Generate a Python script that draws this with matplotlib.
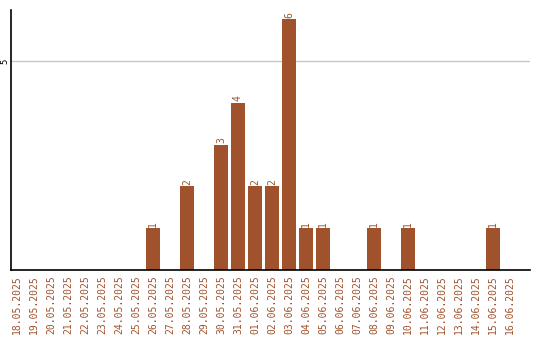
import matplotlib
matplotlib.use("Agg")
import matplotlib.pyplot as plt

dates = ["18.05.2025", "19.05.2025", "20.05.2025", "21.05.2025", "22.05.2025",
         "23.05.2025", "24.05.2025", "25.05.2025", "26.05.2025", "27.05.2025",
         "28.05.2025", "29.05.2025", "30.05.2025", "31.05.2025", "01.06.2025",
         "02.06.2025", "03.06.2025", "04.06.2025", "05.06.2025", "06.06.2025",
         "07.06.2025", "08.06.2025", "09.06.2025", "10.06.2025", "11.06.2025",
         "12.06.2025", "13.06.2025", "14.06.2025", "15.06.2025", "16.06.2025"]
counts = [0, 0, 0, 0, 0, 0, 0, 0, 1, 0,
          2, 0, 3, 4, 2, 2, 6, 1, 1, 0,
          0, 1, 0, 1, 0, 0, 0, 0, 1, 0]

color = "#a0522d"
fig = plt.figure(figsize=(5.4, 3.4), dpi=100)
ax = fig.add_axes([11/540, 70/340, 519/540, 260/340])
x = list(range(len(dates)))
ax.bar(x, counts, width=0.82, color=color, zorder=2)
for xi, v in zip(x, counts):
    if v > 0:
        ax.text(xi, v + 0.04, str(v), rotation=90, ha="center", va="bottom",
                color=color, fontsize=7, family="DejaVu Sans Mono")
ax.set_xlim(-0.35, 30.18)
ax.set_ylim(0, 6.22)
ax.set_yticks([5])
ax.set_yticklabels(["5"], rotation=90, va="center", fontsize=6.5, family="DejaVu Sans Mono")
ax.yaxis.grid(True, color="#c8c8c8", linewidth=1, zorder=0)
ax.set_xticks(x)
ax.set_xticklabels(dates, rotation=90, color=color, fontsize=7, family="DejaVu Sans Mono")
ax.tick_params(axis="both", length=0)
ax.tick_params(axis="x", pad=4)
ax.tick_params(axis="y", pad=1)
for s in ["top", "right"]:
    ax.spines[s].set_visible(False)
ax.spines["left"].set_linewidth(1.2)
ax.spines["bottom"].set_linewidth(1.2)
fig.savefig("out.png", dpi=100)
